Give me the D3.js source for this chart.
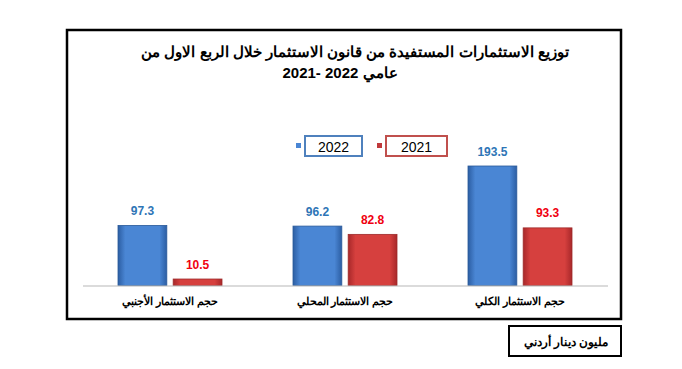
<!DOCTYPE html>
<html><head><meta charset="utf-8">
<script src="https://cdn.jsdelivr.net/npm/d3@7"></script>
<style>body{margin:0;background:#fff}svg{display:block}text{font-family:"Liberation Sans",Arial,sans-serif}</style>
</head><body><svg id="c" width="682" height="369"></svg>
<script>
const categories = ["حجم الاستثمار الأجنبي", "حجم الاستثمار المحلي", "حجم الاستثمار الكلي"];
const series = ["2022", "2021"];
const values2022 = [97.3, 96.2, 193.5];
const values2021 = [10.5, 82.8, 93.3];
const titleLines = ["توزيع الاستثمارات المستفيدة من قانون الاستثمار خلال الربع الاول من", "عامي 2022 -2021"];
const unitLabel = "مليون دينار أردني";

const svg = d3.select("#c");
const defs = svg.append("defs");
function grad(id, edge, mid) {
  const g = defs.append("linearGradient").attr("id", id).attr("x1", 0).attr("x2", 1).attr("y1", 0).attr("y2", 0);
  g.append("stop").attr("offset", "0%").attr("stop-color", edge);
  g.append("stop").attr("offset", "15%").attr("stop-color", mid);
  g.append("stop").attr("offset", "85%").attr("stop-color", mid);
  g.append("stop").attr("offset", "100%").attr("stop-color", edge);
}
grad("gb", "#2c5ea3", "#4a86d4");
grad("gr", "#a8282a", "#d6403e");
const fills = {"2022": "url(#gb)", "2021": "url(#gr)"};
const strokes = {"2022": "#2a5a9a", "2021": "#9e2a2a"};
const labelColors = {"2022": "#2e75b6", "2021": "#f00010"};

// outer frame
svg.append("rect").attr("x", 67).attr("y", 30).attr("width", 554).attr("height", 289)
  .attr("fill", "none").attr("stroke", "#000").attr("stroke-width", 2.5);

// title
svg.append("text").attr("x", 355).attr("y", 57).attr("text-anchor", "middle").attr("direction", "rtl")
  .attr("font-size", 15).attr("font-weight", "bold").text(titleLines[0]);
svg.append("text").attr("x", 340).attr("y", 78).attr("text-anchor", "middle").attr("direction", "ltr")
  .attr("font-size", 15).attr("font-weight", "bold").text("\u200E" + titleLines[1]);

const x0 = d3.scaleBand().domain(categories).range([82.5, 607.5]).padding(0);
const x1 = d3.scaleBand().domain(series).range([0, 104]).paddingInner(0.115);
const y = d3.scaleLinear().domain([0, 193.5]).range([285.5, 166]);

const data = categories.map((c, i) => ({c, vals: [{s: "2022", v: values2022[i]}, {s: "2021", v: values2021[i]}]}));

const groups = svg.append("g").selectAll("g").data(data).join("g")
  .attr("transform", d => `translate(${x0(d.c) + (x0.bandwidth() - 104) / 2},0)`);
groups.selectAll("rect").data(d => d.vals).join("rect")
  .attr("x", d => x1(d.s)).attr("width", x1.bandwidth())
  .attr("y", d => y(d.v)).attr("height", d => y(0) - y(d.v))
  .attr("fill", d => fills[d.s]).attr("stroke", d => strokes[d.s]).attr("stroke-width", 0.8);
groups.selectAll("text.v").data(d => d.vals).join("text").attr("class", "v")
  .attr("x", d => x1(d.s) + x1.bandwidth() / 2).attr("y", d => y(d.v) - 10.5)
  .attr("text-anchor", "middle").attr("font-size", 12).attr("font-weight", "bold")
  .attr("font-family", "'Open Sans',sans-serif")
  .attr("fill", d => labelColors[d.s]).text(d => d.v.toFixed(1));

// axis
const axis = svg.append("g").attr("transform", `translate(0,${y(0)})`).call(d3.axisBottom(x0).tickSize(0).tickPadding(12));
axis.select(".domain").attr("stroke", "#b8b8b8").attr("stroke-width", 1.2);
axis.selectAll(".tick text").attr("font-size", 10.5).attr("font-weight", "bold").attr("fill", "#000")
  .attr("direction", "rtl").attr("font-family", "'Liberation Sans',Arial,sans-serif");

// legend
const leg = [{s: "2022", bx: 305, mx: 296, w: 57, stroke: "#4f81bd", fill: "#4a86d4"},
             {s: "2021", bx: 386, mx: 377, w: 61, stroke: "#c0504d", fill: "#c0393b"}];
const lg = svg.append("g").selectAll("g").data(leg).join("g");
lg.append("rect").attr("x", d => d.bx).attr("y", 136).attr("width", d => d.w).attr("height", 20)
  .attr("fill", "#fff").attr("stroke", d => d.stroke).attr("stroke-width", 2);
lg.append("rect").attr("x", d => d.mx).attr("y", 143).attr("width", 5).attr("height", 5).attr("fill", d => d.fill);
lg.append("text").attr("x", d => d.bx + d.w / 2).attr("y", 151.5).attr("text-anchor", "middle")
  .attr("font-size", 14).attr("fill", "#000").text(d => d.s);

// unit box
svg.append("rect").attr("x", 509).attr("y", 326).attr("width", 112).attr("height", 30)
  .attr("fill", "#fff").attr("stroke", "#000").attr("stroke-width", 2);
svg.append("text").attr("x", 566).attr("y", 345.5).attr("text-anchor", "middle").attr("direction", "rtl")
  .attr("font-size", 12).attr("font-weight", "bold").text(unitLabel);
</script></body></html>
